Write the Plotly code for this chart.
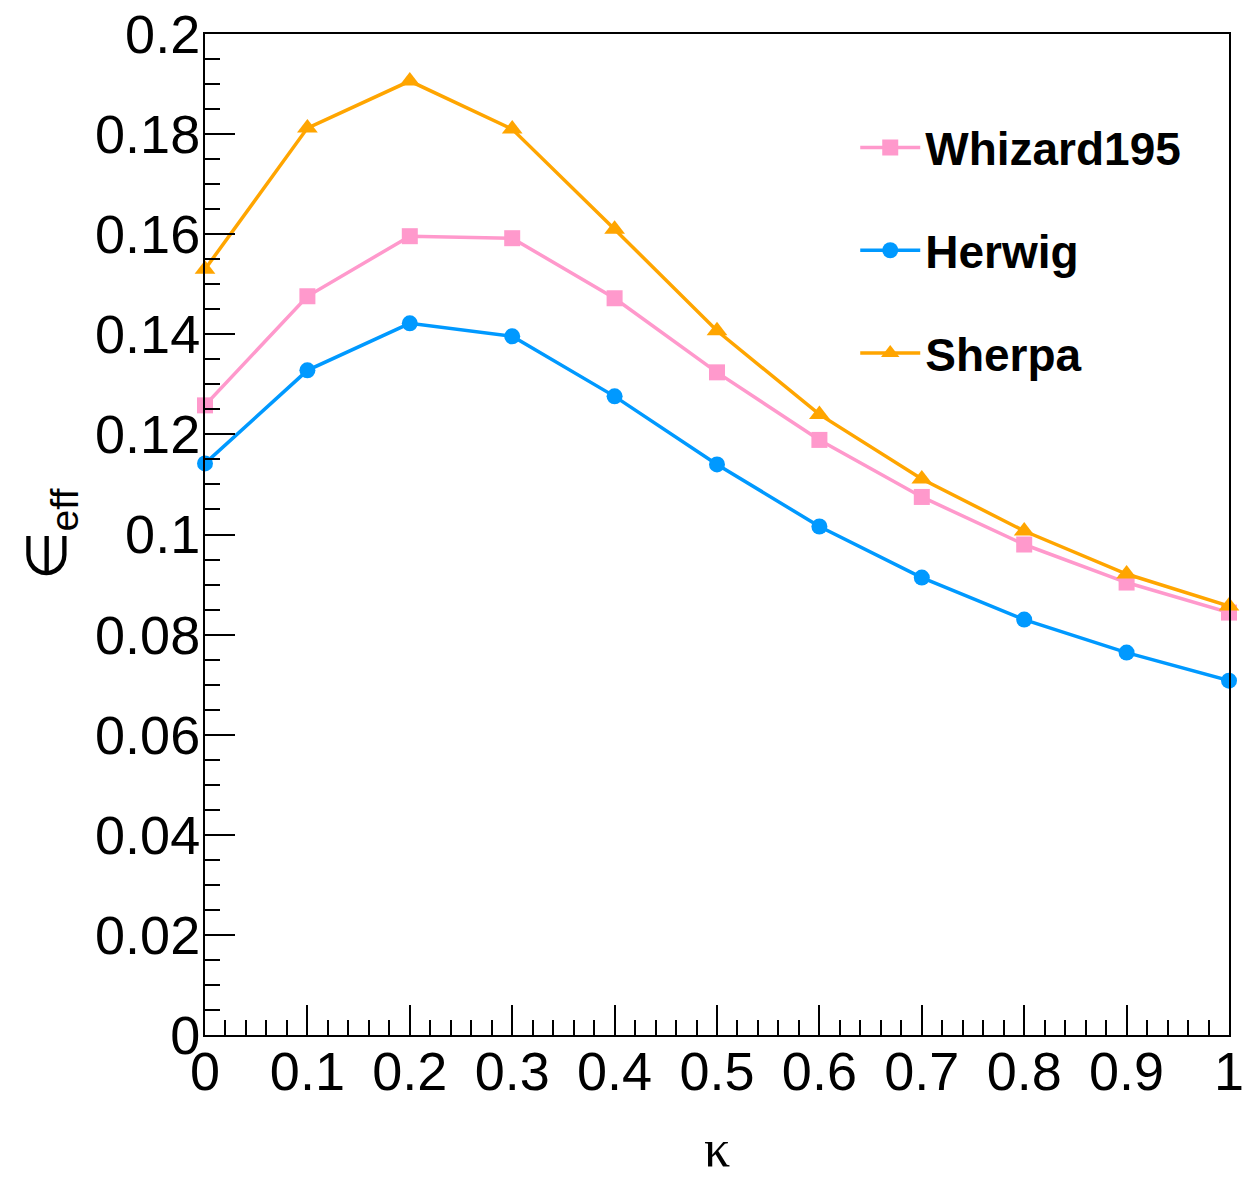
import plotly.graph_objects as go

kappa = [0.0, 0.1, 0.2, 0.3, 0.4, 0.5, 0.6, 0.7, 0.8, 0.9, 1.0]
whizard = [0.1258, 0.1476, 0.1596, 0.1592, 0.1472, 0.1324, 0.1189, 0.1075, 0.0980, 0.0904, 0.0844]
herwig = [0.1142, 0.1328, 0.1422, 0.1396, 0.1276, 0.1140, 0.1016, 0.0914, 0.0830, 0.0764, 0.0708]
sherpa = [0.1530, 0.1812, 0.1906, 0.1810, 0.1610, 0.1407, 0.1240, 0.1111, 0.1007, 0.0921, 0.0857]

y_tickvals = [0, 0.02, 0.04, 0.06, 0.08, 0.1, 0.12, 0.14, 0.16, 0.18, 0.2]
y_ticktext = ["0", "0.02", "0.04", "0.06", "0.08", "0.1", "0.12", "0.14", "0.16", "0.18", "0.2"]
x_tickvals = [0, 0.1, 0.2, 0.3, 0.4, 0.5, 0.6, 0.7, 0.8, 0.9, 1.0]
x_ticktext = ["0", "0.1", "0.2", "0.3", "0.4", "0.5", "0.6", "0.7", "0.8", "0.9", "1"]

series = [
    ("Whizard195", whizard, "#ff99cc", "square", 16),
    ("Herwig", herwig, "#0099ff", "circle", 16),
    ("Sherpa", sherpa, "#ffa500", "triangle-up", 18),
]

FONT = "Liberation Sans, Arial, Helvetica, sans-serif"

fig = go.Figure()
for i, (name, ys, color, sym, sz) in enumerate(series):
    fig.add_trace(go.Scatter(
        x=kappa, y=ys, name=name, mode="lines+markers",
        line=dict(color=color, width=3.5),
        marker=dict(color=color, symbol=sym, size=sz),
        cliponaxis=False, legendgroup=f"g{i}",
    ))

fig.update_layout(
    width=1245, height=1177,
    margin=dict(l=205, r=16, t=34, b=142, autoexpand=False),
    paper_bgcolor="white", plot_bgcolor="white",
    font=dict(family=FONT, color="black"),
    showlegend=True,
    legend=dict(
        x=0.635, y=0.923, xanchor="left", yanchor="top",
        font=dict(family=FONT, size=46, weight="bold", color="black"),
        bgcolor="rgba(0,0,0,0)", tracegroupgap=40, itemwidth=60,
    ),
    xaxis=dict(
        range=[0, 1], tickvals=x_tickvals, ticktext=x_ticktext, automargin=False,
        ticks="inside", ticklen=30, tickwidth=1.5, tickcolor="black",
        minor=dict(ticks="inside", ticklen=15, tickwidth=1.5, tickcolor="black", dtick=0.02, tick0=0),
        showline=True, linecolor="black", linewidth=2, mirror=True,
        showgrid=False, zeroline=False,
        tickfont=dict(family=FONT, size=54), ticklabelstandoff=-12,
        title=dict(text="κ", font=dict(family="Liberation Serif, DejaVu Serif, serif", size=52), standoff=48),
    ),
    yaxis=dict(
        range=[0, 0.2], tickvals=y_tickvals, ticktext=y_ticktext, automargin=False,
        ticks="inside", ticklen=30, tickwidth=1.5, tickcolor="black",
        minor=dict(ticks="inside", ticklen=15, tickwidth=1.5, tickcolor="black", dtick=0.005, tick0=0),
        showline=True, linecolor="black", linewidth=2, mirror=True,
        showgrid=False, zeroline=False,
        tickfont=dict(family=FONT, size=54), ticklabelstandoff=-8,
        title=dict(text="∈<sub>eff</sub>", font=dict(family=FONT, size=56), standoff=10),
    ),
)

fig.write_html("out.html")
